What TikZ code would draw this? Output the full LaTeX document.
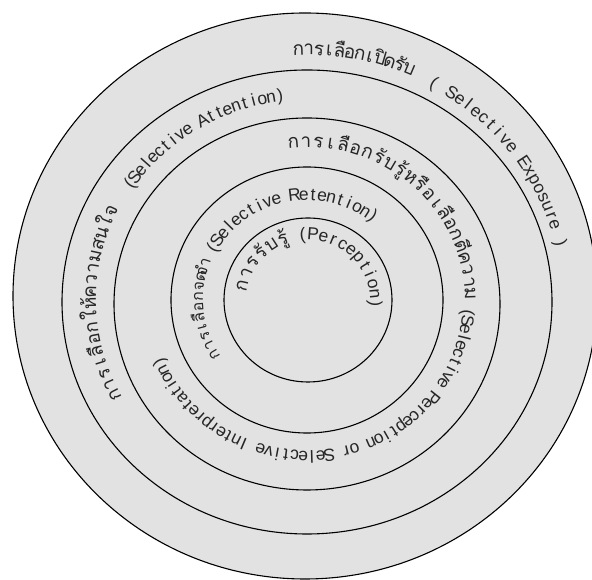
\documentclass[tikz,border=0pt]{standalone}
\usepackage{fontspec}
\setmainfont{Liberation Sans}
\newfontfamily\thaifont[Script=Thai]{Loma}
\newcommand\latf{\fontsize{17.5}{20}\selectfont}
\newcommand\thf{\thaifont\fontsize{19}{23}\selectfont}
\newcommand\thsf{\thaifont\fontsize{16}{19}\selectfont}
\newlength\chw
\makeatletter
% #1 cx, #2 cy, #3 rx, #4 ry, #5 start angle, #6 end angle, #7 font, #8 list of glyph clusters
\newcommand\arcfill[8]{%
  \gdef\arc@tot{0}\gdef\arc@n{0}%
  \foreach \ch in {#8}{%
    \settowidth\chw{#7\ch}%
    \pgfmathsetmacro\arc@t{\arc@tot+\chw}\xdef\arc@tot{\arc@t}%
    \pgfmathtruncatemacro\arc@m{\arc@n+1}\xdef\arc@n{\arc@m}}%
  \pgfmathsetmacro\arc@r{(#3+#4)/2}%
  \pgfmathsetmacro\arc@nat{\arc@tot/\arc@r*57.29578}%
  \pgfmathsetmacro\arc@ex{((#5)-(#6)-\arc@nat)/\arc@n}%
  \xdef\arc@cur{#5}%
  \foreach \ch in {#8}{%
    \settowidth\chw{#7\ch}%
    \pgfmathsetmacro\arc@d{\chw/\arc@r*57.29578+\arc@ex}%
    \pgfmathsetmacro\arc@mid{\arc@cur-\arc@d/2}%
    \node[arcglyph,rotate=\arc@mid-90] at ([shift={(\arc@mid:#3 and #4)}]#1,#2) {#7\ch};
    \pgfmathsetmacro\arc@nx{\arc@cur-\arc@d}\xdef\arc@cur{\arc@nx}}%
}
\makeatother
\definecolor{ringfill}{RGB}{226,226,226}
\begin{document}
\begin{tikzpicture}[x=1pt,y=1pt,
  ring/.style={draw=black,line width=1.1pt},
  arcglyph/.style={anchor=base,inner sep=0pt,text=black!85}]
\useasboundingbox (0,0) rectangle (592,580);
\clip (0,0) rectangle (592,580);
\fill[white] (0,0) rectangle (592,580);
% rings
\path[ring,fill=ringfill] (305,284) ellipse [x radius=292,y radius=283];
\path[ring] (307,278) ellipse [x radius=245,y radius=232];
\path[ring] (307,276) ellipse [x radius=193,y radius=186];
\path[ring] (307,280) ellipse [x radius=136,y radius=133];
\path[ring] (308,280) ellipse [x radius=84,y radius=82];
% ring 1: Selective Exposure
\arcfill{307}{280}{257}{245}{93}{66}{\thf}{ก,า,ร,เ,ลื,อ,ก,เ,ปิ,ด,รั,บ}
\arcfill{307}{280}{255}{243}{62}{12}{\latf}{{(},~,S,e,l,e,c,t,i,v,e,~,E,x,p,o,s,u,r,e,~,{)}}
% ring 2: Selective Attention
\arcfill{307}{280}{211}{202}{209}{153}{\thf}{ก,า,ร,เ,ลื,อ,ก,ใ,ห้,ค,ว,า,ม,ส,น,ใ,จ}
\arcfill{307}{280}{209}{200}{147}{96}{\latf}{{(},S,e,l,e,c,t,i,v,e,~,A,t,t,e,n,t,i,o,n,{)}}
% ring 3: Selective Perception / Interpretation
\arcfill{307}{280}{158}{153}{97}{0}{\thf}{ก,า,ร,เ,ลื,อ,ก,รั,บ,รู้,ห,รื,อ,เ,ลื,อ,ก,ตี,ค,ว,า,ม}
\arcfill{307}{280}{156}{151}{-3}{-158}{\latf}{{(},S,e,l,e,c,t,i,v,e,~,P,e,r,c,e,p,t,i,o,n,~,o,r,~,S,e,l,e,c,t,i,v,e,~,I,n,t,e,r,p,r,e,t,a,t,i,o,n,{)}}
% ring 4: Selective Retention
\arcfill{307}{280}{104}{101}{214}{159}{\thsf}{ก,า,ร,เ,ลื,อ,ก,จ,ด,จำ}
\arcfill{307}{280}{103}{100}{153}{50}{\latf}{{(},S,e,l,e,c,t,i,v,e,~,R,e,t,e,n,t,i,o,n,{)}}
% inner: Perception
\arcfill{308}{280}{62}{60}{173}{106}{\thf}{ก,า,ร,รั,บ,รู้}
\arcfill{308}{280}{62}{60}{99}{-8}{\latf}{{(},P,e,r,c,e,p,t,i,o,n,{)}}
\end{tikzpicture}
\end{document}
